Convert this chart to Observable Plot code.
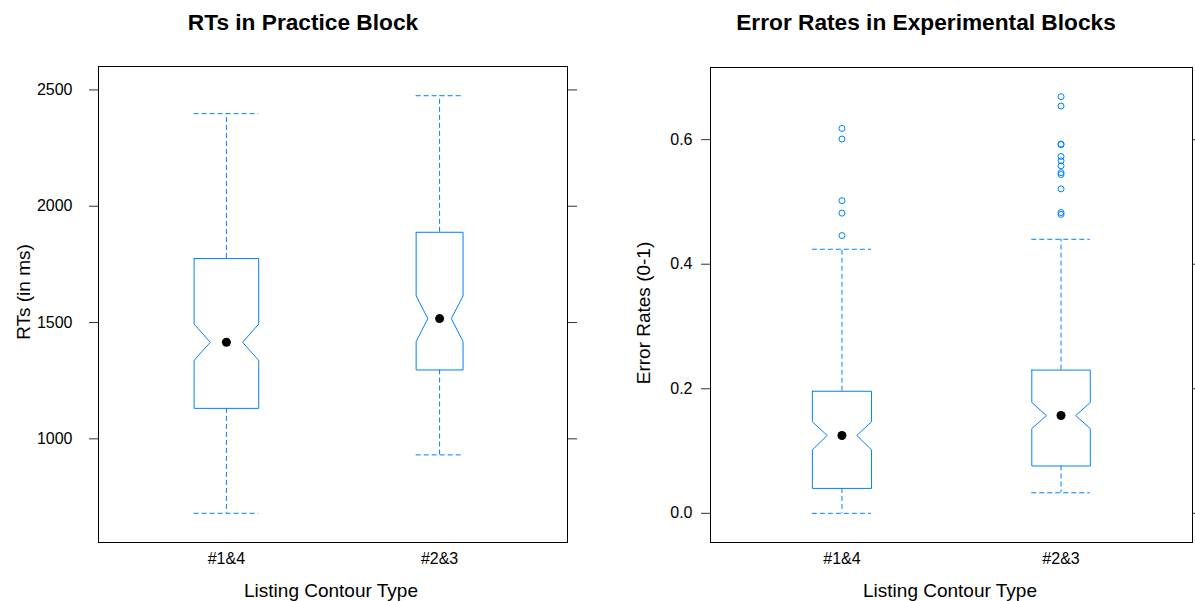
<!DOCTYPE html>
<html>
<head>
<meta charset="utf-8">
<script src="https://cdn.jsdelivr.net/npm/d3@7"></script>
<script src="https://cdn.jsdelivr.net/npm/@observablehq/plot@0.6"></script>
<style>
  body { margin: 0; background: white; font-family: "Liberation Sans", Arial, sans-serif; }
  #wrap { position: relative; width: 1195px; height: 601px; overflow: hidden; background: white; }
  .panel { position: absolute; top: 0; }
  .lbl { position: absolute; transform: translate(-50%, -50%); white-space: nowrap; color: #000; }
  .title { font-weight: bold; font-size: 22.7px; }
  .axt { font-size: 19px; }
  .rot { transform: translate(-50%, -50%) rotate(-90deg); }
</style>
</head>
<body>
<div id="wrap"></div>
<script>
// ---------- data ----------
const categories = ["#1&4", "#2&3"];

// Panel 1: RTs in Practice Block
const rtWhiskerLo = [680, 931];
const rtQ1        = [1131, 1296];
const rtNotchLo   = [1337, 1418];
const rtMedian    = [1415, 1517];
const rtNotchHi   = [1493, 1614];
const rtQ3        = [1775, 1888];
const rtWhiskerHi = [2398, 2475];
const rtOutliers  = [[], []];
const rtRelWidth  = [0.303, 0.22];   // varwidth (relative group size)
const rtTicks     = [1000, 1500, 2000, 2500];
const rtTickLabels = ["1000", "1500", "2000", "2500"];

// Panel 2: Error Rates in Experimental Blocks
const erWhiskerLo = [0.0, 0.033];
const erQ1        = [0.040, 0.076];
const erNotchLo   = [0.102, 0.136];
const erMedian    = [0.125, 0.157];
const erNotchHi   = [0.147, 0.178];
const erQ3        = [0.196, 0.230];
const erWhiskerHi = [0.424, 0.440];
const erOutliers  = [
  [0.618, 0.601, 0.502, 0.482, 0.446],
  [0.669, 0.654, 0.593, 0.592, 0.573, 0.566, 0.558, 0.547, 0.544, 0.521, 0.483, 0.480]
];
const erRelWidth  = [0.27, 0.267];
const erTicks     = [0, 0.2, 0.4, 0.6];
const erTickLabels = ["0.0", "0.2", "0.4", "0.6"];

const boxColor = "#0080ff";

// ---------- builder ----------
function panel(cfg) {
  const n = categories.length;
  const boxes = categories.map((c, i) => ({
    cat: c, x: i + 1,
    wlo: cfg.wlo[i], q1: cfg.q1[i], nlo: cfg.nlo[i], med: cfg.med[i],
    nhi: cfg.nhi[i], q3: cfg.q3[i], whi: cfg.whi[i], h: cfg.rel[i] / 2
  }));
  const poly = [];
  boxes.forEach(b => {
    const c = b.x, h = b.h;
    [[c - h, b.q3], [c + h, b.q3], [c + h, b.nhi], [c + h / 2, b.med], [c + h, b.nlo],
     [c + h, b.q1], [c - h, b.q1], [c - h, b.nlo], [c - h / 2, b.med], [c - h, b.nhi], [c - h, b.q3]]
      .forEach(([x, y]) => poly.push({x, y, z: b.cat}));
  });
  const outs = [];
  cfg.out.forEach((arr, i) => arr.forEach(v => outs.push({x: i + 1, y: v})));
  const all = [...cfg.wlo, ...cfg.whi, ...outs.map(d => d.y)];
  const lo = d3.min(all), hi = d3.max(all), pad = (hi - lo) * 0.07;
  const fmt = v => cfg.tickLabels[cfg.ticks.indexOf(v)];
  const dash = "5,3";

  return Plot.plot({
    width: cfg.width, height: 601,
    marginLeft: cfg.ml, marginRight: cfg.mr, marginTop: cfg.mt, marginBottom: cfg.mb,
    style: {fontFamily: '"Liberation Sans", Arial, sans-serif', fontSize: "16px", color: "#000", background: "white"},
    x: {domain: [1 - 0.6, n + 0.6]},
    y: {domain: [lo - pad, hi + pad]},
    marks: [
      Plot.axisY({anchor: "left", ticks: cfg.ticks, tickFormat: fmt, tickSize: 9, tickPadding: cfg.tp, label: null, fontSize: 16, stroke: "#333"}),
      Plot.axisY({anchor: "right", ticks: cfg.ticks, tickFormat: () => "", tickSize: 9, label: null, stroke: "#333"}),
      Plot.axisX({anchor: "bottom", ticks: d3.range(1, n + 1), tickFormat: i => categories[i - 1], tickSize: 0, tickPadding: 10, label: null, fontSize: 16}),
      // whiskers
      Plot.ruleX(boxes, {x: "x", y1: "q3", y2: "whi", stroke: boxColor, strokeDasharray: dash}),
      Plot.ruleX(boxes, {x: "x", y1: "q1", y2: "wlo", stroke: boxColor, strokeDasharray: dash}),
      Plot.ruleY(boxes, {y: "whi", x1: d => d.x - d.h, x2: d => d.x + d.h, stroke: boxColor, strokeDasharray: dash}),
      Plot.ruleY(boxes, {y: "wlo", x1: d => d.x - d.h, x2: d => d.x + d.h, stroke: boxColor, strokeDasharray: dash}),
      // notched boxes
      Plot.line(poly, {x: "x", y: "y", z: "z", stroke: boxColor, strokeWidth: 1, curve: "linear"}),
      // outliers
      Plot.dot(outs, {x: "x", y: "y", r: 3, stroke: boxColor, fill: "none", strokeWidth: 1}),
      // medians
      Plot.dot(boxes, {x: "x", y: "med", r: 4.5, fill: "black", stroke: "none"}),
      Plot.frame({stroke: "#000", strokeWidth: 1})
    ]
  });
}

const wrap = document.getElementById("wrap");
function place(node, left) {
  const d = document.createElement("div");
  d.className = "panel"; d.style.left = left + "px";
  d.appendChild(node); wrap.appendChild(d);
}
function label(text, x, y, cls) {
  const d = document.createElement("div");
  d.className = "lbl " + cls; d.textContent = text;
  d.style.left = x + "px"; d.style.top = y + "px";
  wrap.appendChild(d);
}

place(panel({
  width: 597, ml: 98, mr: 30, mt: 66, mb: 59, tp: 17,
  wlo: rtWhiskerLo, q1: rtQ1, nlo: rtNotchLo, med: rtMedian, nhi: rtNotchHi, q3: rtQ3, whi: rtWhiskerHi,
  out: rtOutliers, rel: rtRelWidth, ticks: rtTicks, tickLabels: rtTickLabels
}), 0);

place(panel({
  width: 598, ml: 113, mr: 3, mt: 67, mb: 59, tp: 9,
  wlo: erWhiskerLo, q1: erQ1, nlo: erNotchLo, med: erMedian, nhi: erNotchHi, q3: erQ3, whi: erWhiskerHi,
  out: erOutliers, rel: erRelWidth, ticks: erTicks, tickLabels: erTickLabels
}), 597);

label("RTs in Practice Block", 303, 22, "title");
label("Error Rates in Experimental Blocks", 926, 22, "title");
label("RTs (in ms)", 24, 292, "axt rot");
label("Error Rates (0-1)", 644, 313, "axt rot");
label("Listing Contour Type", 331, 591, "axt");
label("Listing Contour Type", 950, 591, "axt");
</script>
</body>
</html>
